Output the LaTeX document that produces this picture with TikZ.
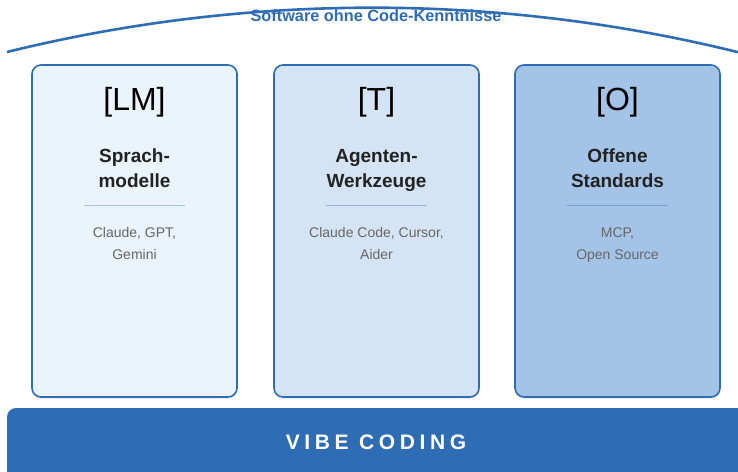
\documentclass[tikz,border=0pt]{standalone}
\usepackage{fontspec}
\setmainfont{Liberation Sans}
\newfontfamily\spacedfont[LetterSpace=22]{Liberation Sans}
\usetikzlibrary{shadows}
\definecolor{vcblue}{HTML}{2E6DB4}
\definecolor{cardA}{HTML}{EBF3FC}
\definecolor{cardB}{HTML}{D5E4F5}
\definecolor{cardC}{HTML}{A4C4E7}
\definecolor{divA}{HTML}{A6C3E4}
\definecolor{divB}{HTML}{96B6DD}
\definecolor{divC}{HTML}{78A1D3}
\definecolor{darktext}{HTML}{222222}
\definecolor{greytext}{HTML}{666666}
\tikzset{
  card/.style={draw=vcblue, line width=1.6pt, rounded corners=9pt,
    minimum width=205pt, minimum height=332pt, inner sep=0pt,
    drop shadow={opacity=0.12, shadow xshift=0pt, shadow yshift=-2pt}},
  icon/.style={anchor=base, font=\fontsize{32}{34}\selectfont, text=black},
  cardtitle/.style={anchor=base, font=\fontsize{19}{22}\selectfont\bfseries, text=darktext},
  cardtext/.style={anchor=base, font=\fontsize{14}{16}\selectfont, text=greytext},
  divider/.style={line width=1pt}
}
\begin{document}
\begin{tikzpicture}[x=1pt, y=-1pt]
\useasboundingbox (0,0) rectangle (738,471);
% arc over the cards
\draw[vcblue, line width=2.6pt] (7,52) arc (-103.84:-75.5:1527);
\node[anchor=base, text=vcblue, font=\fontsize{16.3}{18}\selectfont\bfseries] (arclabel) at (376,21) {Software ohne Code-Kenntnisse};
% cards
\node[card, fill=cardA] (lm) at (134.5,231) {};
\node[card, fill=cardB] (tools) at (376.5,231) {};
\node[card, fill=cardC] (open) at (617.5,231) {};
% card 1
\node[icon] (lmicon) at (134.5,110) {[LM]};
\node[cardtitle] (lmtitle) at (134.5,162) {Sprach-};
\node[cardtitle] (lmtitleb) at (134.5,187) {modelle};
\draw[divider, divA] (84,205) -- (185,205);
\node[cardtext] (lmtext) at (134.5,237.5) {Claude, GPT,};
\node[cardtext] (lmtextb) at (134.5,259.5) {Gemini};
% card 2
\node[icon] (toolsicon) at (376.5,110) {[T]};
\node[cardtitle] (toolstitle) at (376.5,162) {Agenten-};
\node[cardtitle] (toolstitleb) at (376.5,187) {Werkzeuge};
\draw[divider, divB] (326,205) -- (427,205);
\node[cardtext] (toolstext) at (376.5,237.5) {Claude Code, Cursor,};
\node[cardtext] (toolstextb) at (376.5,259.5) {Aider};
% card 3
\node[icon] (openicon) at (617.5,110) {[O]};
\node[cardtitle] (opentitle) at (617.5,162) {Offene};
\node[cardtitle] (opentitleb) at (617.5,187) {Standards};
\draw[divider, divC] (567,205) -- (668,205);
\node[cardtext] (opentext) at (617.5,237.5) {MCP,};
\node[cardtext] (opentextb) at (617.5,259.5) {Open Source};
% base bar
\fill[vcblue, rounded corners=9pt, drop shadow={opacity=0.12, shadow xshift=0pt, shadow yshift=-2pt}] (7,408) rectangle (770,490);
\node[anchor=base, text=white, font=\fontsize{21}{23}\selectfont\spacedfont\bfseries] (vibe) at (376,449) {VIBE CODING};
\end{tikzpicture}
\end{document}
